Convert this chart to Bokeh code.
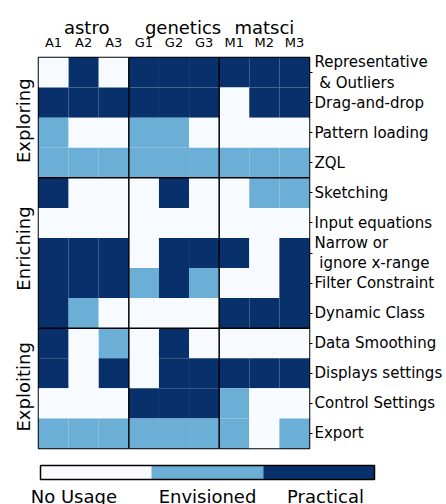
from bokeh.plotting import figure
from bokeh.models import (FixedTicker, LinearAxis, ColumnDataSource, Span, Range1d,
                          ColorBar, LinearColorMapper)
from bokeh.embed import file_html
from bokeh.resources import INLINE

columns = ["A1", "A2", "A3", "G1", "G2", "G3", "M1", "M2", "M3"]
groups = ["astro", "genetics", "matsci"]
group_pos = [1.1, 4.3, 7.0]
rows = ["Representative\n\u00a0& Outliers", "Drag-and-drop", "Pattern loading", "ZQL",
        "Sketching", "Input equations", "Narrow or\n\u00a0ignore x-range", "Filter Constraint",
        "Dynamic Class", "Data Smoothing", "Displays settings", "Control Settings", "Export"]
stages = ["Exploring", "Enriching", "Exploiting"]
stage_pos = [1.6, 5.85, 10.45]
levels = ["No Usage", "Envisioned", "Practical"]
level_label_pos = [-0.2, 1.0, 2.06]
palette = ["#f7fbff", "#6baed6", "#08306b"]

# 0 = no usage, 1 = envisioned, 2 = practical
usage = [
    [0, 2, 0, 2, 2, 2, 2, 2, 2],
    [2, 2, 2, 2, 2, 2, 0, 2, 2],
    [1, 0, 0, 1, 1, 0, 0, 0, 0],
    [1, 1, 1, 1, 1, 1, 1, 1, 1],
    [2, 0, 0, 0, 2, 0, 0, 1, 1],
    [0, 0, 0, 0, 0, 0, 0, 0, 0],
    [2, 2, 2, 0, 2, 2, 2, 0, 2],
    [2, 2, 2, 1, 2, 1, 0, 0, 2],
    [2, 1, 0, 0, 0, 0, 2, 2, 2],
    [2, 0, 1, 0, 2, 0, 0, 0, 0],
    [2, 0, 2, 0, 2, 2, 2, 2, 2],
    [0, 0, 0, 2, 2, 2, 1, 0, 0],
    [1, 1, 1, 1, 1, 1, 1, 0, 1],
]
col_breaks = [2.5, 5.5]
row_breaks = [3.5, 8.5]

FONT = "DejaVu Sans"

xs, ys, cs = [], [], []
for r, vals in enumerate(usage):
    for c, v in enumerate(vals):
        xs.append(c)
        ys.append(r)
        cs.append(palette[v])
src = ColumnDataSource(dict(x=xs, y=ys, color=cs))

p = figure(width=446, height=504, output_backend="svg", toolbar_location=None,
           x_range=Range1d(-0.5, len(columns) - 0.5), y_range=Range1d(len(rows) - 0.5, -0.5),
           x_axis_location="above", y_axis_location="right",
           min_border_left=38, min_border_right=137, min_border_top=57, min_border_bottom=56)
p.outline_line_color = "black"
p.outline_line_width = 1.5
p.grid.visible = False
p.background_fill_color = "white"
p.border_fill_color = "white"

p.rect("x", "y", 1, 1, source=src, fill_color="color", line_color=None)

for b in col_breaks:
    p.add_layout(Span(location=b, dimension="height", line_color="black", line_width=1.5))
for b in row_breaks:
    p.add_layout(Span(location=b, dimension="width", line_color="black", line_width=1.5))

# top column axis
xa = p.xaxis[0]
xa.ticker = FixedTicker(ticks=list(range(len(columns))))
xa.major_label_overrides = {i: s for i, s in enumerate(columns)}
xa.axis_line_color = None
xa.major_tick_line_color = None
xa.minor_tick_line_color = None
xa.major_label_text_font = FONT
xa.major_label_text_font_size = "13px"
xa.major_label_text_color = "black"
xa.major_label_standoff = 2

ga = LinearAxis(ticker=FixedTicker(ticks=group_pos),
                major_label_overrides={group_pos[i]: g for i, g in enumerate(groups)})
ga.axis_line_color = None
ga.major_tick_line_color = None
ga.minor_tick_line_color = None
ga.major_label_text_font = FONT
ga.major_label_text_font_size = "18px"
ga.major_label_text_color = "black"
ga.major_label_standoff = -12
p.add_layout(ga, "above")

# right row axis
ya = p.yaxis[0]
ya.ticker = FixedTicker(ticks=list(range(len(rows))))
ya.major_label_overrides = {i: s for i, s in enumerate(rows)}
ya.axis_line_color = None
ya.major_tick_in = 0
ya.major_tick_out = 3
ya.major_tick_line_color = "black"
ya.minor_tick_line_color = None
ya.major_label_text_font = FONT
ya.major_label_text_font_size = "15px"
ya.major_label_text_line_height = 1.15
ya.major_label_text_color = "black"
ya.major_label_standoff = 2

# left stage axis
sa = LinearAxis(ticker=FixedTicker(ticks=stage_pos),
                major_label_overrides={stage_pos[i]: s for i, s in enumerate(stages)})
sa.axis_line_color = None
sa.major_tick_line_color = None
sa.minor_tick_line_color = None
sa.major_label_orientation = "parallel"
sa.major_label_text_font = FONT
sa.major_label_text_font_size = "18px"
sa.major_label_text_color = "black"
sa.major_label_standoff = -2
p.add_layout(sa, "left")

# colour bar, placed just below the frame
mapper = LinearColorMapper(palette=palette, low=-0.5, high=len(levels) - 0.5)
cbar = ColorBar(color_mapper=mapper, orientation="horizontal", location=(2, -61),
                width=334, height=14, padding=0, margin=0,
                ticker=FixedTicker(ticks=level_label_pos),
                major_label_overrides={level_label_pos[i]: s for i, s in enumerate(levels)},
                major_label_text_font=FONT, major_label_text_font_size="18px",
                major_label_text_color="black", label_standoff=6,
                major_tick_line_color=None, minor_tick_line_color=None,
                bar_line_color="black", bar_line_width=1.5,
                border_line_color=None, background_fill_color=None)
p.add_layout(cbar)

open("out.html", "w").write(file_html(p, INLINE))
